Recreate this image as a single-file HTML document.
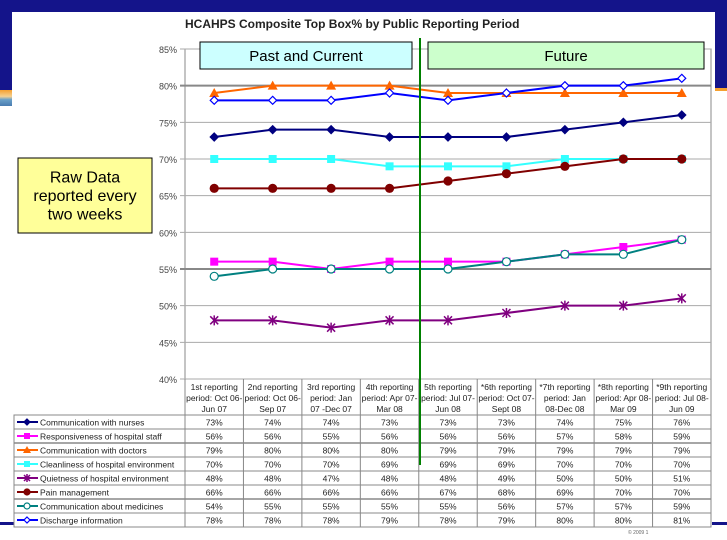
<!DOCTYPE html>
<html><head><meta charset="utf-8">
<style>
body{margin:0;width:727px;height:540px;overflow:hidden;background:#fff;font-family:"Liberation Sans",sans-serif;position:relative}
.abs{position:absolute}
</style></head>
<body>
<div class="abs" style="left:0;top:0;width:727px;height:12px;background:#14148a"></div>
<div class="abs" style="left:0;top:0;width:12px;height:90px;background:#14148a"></div>
<div class="abs" style="left:0;top:90px;width:12px;height:16px;background:linear-gradient(#f5a030,#f5d090 40%,#6aa0c8 60%,#4a7cb0)"></div>
<div class="abs" style="left:715px;top:0;width:12px;height:88px;background:#14148a"></div>
<div class="abs" style="left:715px;top:88px;width:12px;height:3px;background:#f5a030"></div>
<div class="abs" style="left:0;top:522px;width:14px;height:3px;background:#14148a"></div>
<div class="abs" style="left:712px;top:522px;width:15px;height:3px;background:#14148a"></div>
<svg class="abs" style="left:0;top:0" width="727" height="540" id="chart"></svg>
<script>
const categories=["1st reporting|period: Oct 06-|Jun 07","2nd reporting|period: Oct 06-|Sep 07","3rd reporting|period: Jan|07 -Dec 07","4th reporting|period: Apr 07-|Mar 08","5th reporting|period: Jul 07-|Jun 08","*6th reporting|period: Oct 07-|Sept 08","*7th reporting|period: Jan|08-Dec 08","*8th reporting|period: Apr 08-|Mar 09","*9th reporting|period: Jul 08-|Jun 09"];
const seriesNames=["Communication with nurses","Responsiveness of hospital staff","Communication with doctors","Cleanliness of hospital environment","Quietness of hospital environment","Pain management","Communication about medicines","Discharge information"];
const nurses=[73,74,74,73,73,73,74,75,76];
const responsiveness=[56,56,55,56,56,56,57,58,59];
const doctors=[79,80,80,80,79,79,79,79,79];
const cleanliness=[70,70,70,69,69,69,70,70,70];
const quietness=[48,48,47,48,48,49,50,50,51];
const pain=[66,66,66,66,67,68,69,70,70];
const medicines=[54,55,55,55,55,56,57,57,59];
const discharge=[78,78,78,79,78,79,80,80,81];
const yTicks=[40,45,50,55,60,65,70,75,80,85];

const NS="http://www.w3.org/2000/svg";
const svg=document.getElementById('chart');
const L=185,R=711,T=49,B=379,ymin=40,ymax=85;
const cw=(R-L)/categories.length;
function x(i){return L+cw*(i+0.5);}
function y(v){return B-(v-ymin)/(ymax-ymin)*(B-T);}
function mk(tag,a,p){const e=document.createElementNS(NS,tag);for(const k in a)e.setAttribute(k,a[k]);(p||svg).appendChild(e);return e;}
const styles=[
 {c:"#000080",m:"diamond",f:"#000080"},
 {c:"#ff00ff",m:"square",f:"#ff00ff"},
 {c:"#ff6600",m:"triangle",f:"#ff6600"},
 {c:"#33ffff",m:"square",f:"#33ffff"},
 {c:"#800080",m:"star",f:"#800080"},
 {c:"#800000",m:"circle",f:"#800000"},
 {c:"#008080",m:"circle",f:"#fff"},
 {c:"#0000ff",m:"diamond",f:"#fff"}];
const allData=[nurses,responsiveness,doctors,cleanliness,quietness,pain,medicines,discharge];

let t=mk('text',{x:185,y:28,'font-size':12,'font-weight':'bold',fill:'#222'});

t.textContent="HCAHPS Composite Top Box% by Public Reporting Period";

// plot frame + grid
let fr=mk('rect',{x:L,y:T,width:R-L,height:B-T,fill:'none',stroke:'#888','stroke-width':1});

yTicks.forEach(v=>{
 const g=mk('line',{x1:L-5,x2:R,y1:y(v),y2:y(v),stroke:(v==80||v==55)?'#888':'#aaa','stroke-width':(v==80||v==55)?2:1});
 
 const tl=mk('text',{x:L-8,y:y(v)+4,'font-size':9,'text-anchor':'end',fill:'#444'});
 
 tl.textContent=v+'%';
});

// boxes
function box(name,x0,y0,w,h,fill,lines,fs){
 const r=mk('rect',{x:x0,y:y0,width:w,height:h,fill:fill,stroke:'#000','stroke-width':1});
 
 lines.forEach((s,i)=>{const tx=mk('text',{x:x0+w/2,y:y0+h/2+fs*0.35+(i-(lines.length-1)/2)*fs*1.15,'font-size':fs,'text-anchor':'middle',fill:'#000'});
  tx.textContent=s;});
}
box('past-current-label',200,42,212,27,'#ccffff',['Past and Current'],15);
box('future-label',428,42,276,27,'#ccffcc',['Future'],15);
box('raw-data-note',18,158,134,75,'#ffff99',['Raw Data','reported every','two weeks'],16);

// series
allData.forEach((d,s)=>{
 const st=styles[s];
 const pl=mk('polyline',{points:d.map((v,i)=>x(i)+','+y(v)).join(' '),fill:'none',stroke:st.c,'stroke-width':2});
 
 
 d.forEach((v,i)=>drawMarker(x(i),y(v),st,4,'point-s'+s+'-'+i));
});
function drawMarker(cx,cy,st,r,name,parent){
 let e;
 if(st.m=='diamond')e=mk('polygon',{points:`${cx},${cy-r} ${cx+r},${cy} ${cx},${cy+r} ${cx-r},${cy}`,fill:st.f,stroke:st.c,'stroke-width':1.2},parent);
 else if(st.m=='square')e=mk('rect',{x:cx-r,y:cy-r,width:2*r,height:2*r,fill:st.f},parent);
 else if(st.m=='triangle')e=mk('polygon',{points:`${cx},${cy-r-1} ${cx+r+1},${cy+r} ${cx-r-1},${cy+r}`,fill:st.f},parent);
 else if(st.m=='circle')e=mk('circle',{cx:cx,cy:cy,r:r,fill:st.f,stroke:st.c,'stroke-width':1.2},parent);
 else e=mk('path',{d:`M${cx-r},${cy-r}L${cx+r},${cy+r}M${cx-r},${cy+r}L${cx+r},${cy-r}M${cx},${cy-r-1}L${cx},${cy+r+1}`,stroke:st.c,'stroke-width':1.5},parent);
 
}

// table
const hT=379,hB=415,rowH=14;
const tb=mk('rect',{x:14,y:hB,width:R-14,height:rowH*8,fill:'none',stroke:'#888','stroke-width':1});

categories.forEach((c,i)=>{
 const vl=mk('line',{x1:L+cw*i,x2:L+cw*i,y1:hT,y2:hB+rowH*8,stroke:'#888','stroke-width':1});
 
 c.split('|').forEach((s,j)=>{const tx=mk('text',{x:x(i),y:hT+11+j*11,'font-size':8.5,'text-anchor':'middle',fill:'#222'});
  tx.textContent=s;});
});
mk('line',{x1:R,x2:R,y1:hT,y2:hB+rowH*8,stroke:'#888'});
seriesNames.forEach((n,s)=>{
 const ry=hB+rowH*s;
 const hl=mk('line',{x1:14,x2:R,y1:ry,y2:ry,stroke:'#888','stroke-width':(s==2||s==6)?1.5:1});
 
 const st=styles[s];
 const ll=mk('line',{x1:17,x2:38,y1:ry+7,y2:ry+7,stroke:st.c,'stroke-width':2});
 
 drawMarker(27,ry+7,st,3,'legend-marker');
 const lt=mk('text',{x:40,y:ry+10.5,'font-size':8.5,fill:'#222'});
 lt.textContent=n;
 allData[s].forEach((v,i)=>{const vt=mk('text',{x:x(i),y:ry+10.5,'font-size':8.5,'text-anchor':'middle',fill:'#222'});
  vt.textContent=v+'%';});
});

// divider
const dv=mk('line',{x1:420,x2:420,y1:38,y2:465,stroke:'#008000','stroke-width':2});

const ft=mk('text',{x:628,y:534,'font-size':5,fill:'#666'});
ft.textContent="© 2009   1";
</script>
</body></html>
